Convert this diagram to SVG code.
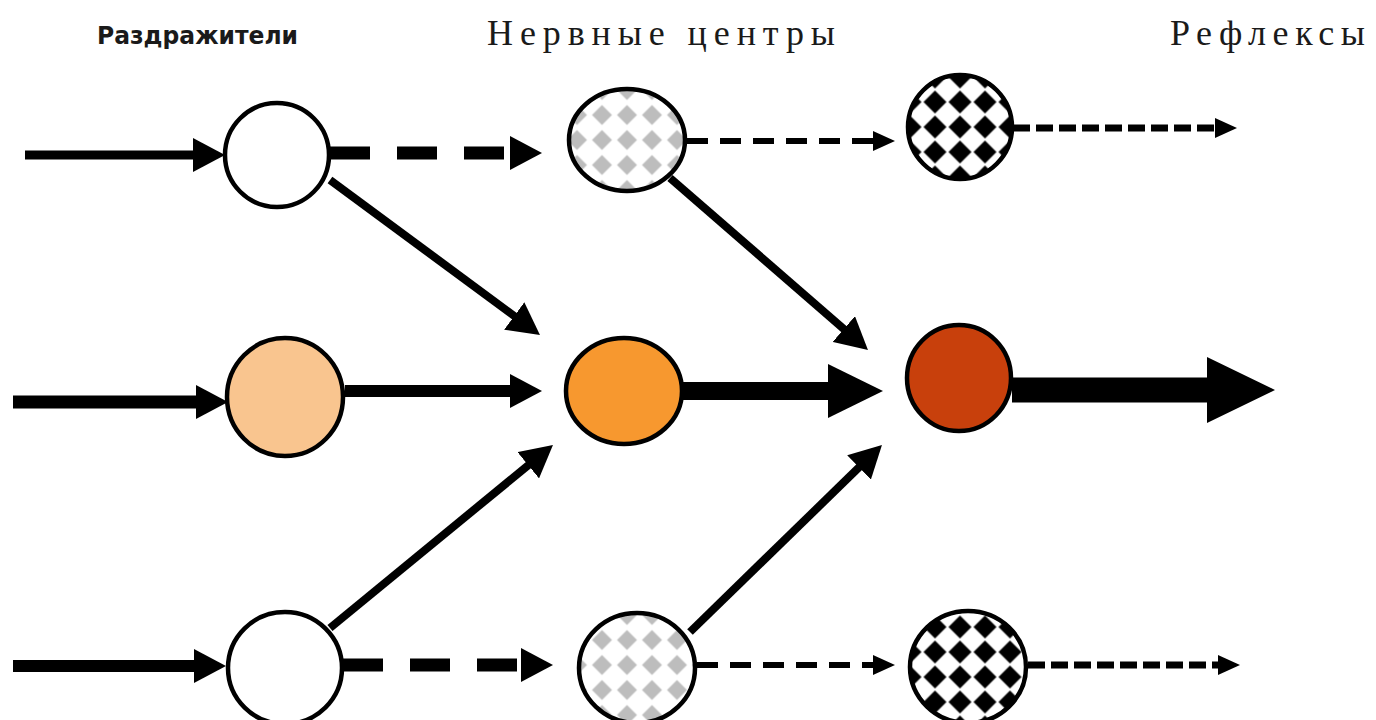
<svg xmlns="http://www.w3.org/2000/svg" width="1376" height="720" viewBox="0 0 1376 720">
<style>
.node{stroke:#000;stroke-width:4.5}
.ln{stroke:#000;fill:none;stroke-linecap:butt}
.hdr{font-family:"Liberation Serif","DejaVu Serif",serif;font-size:36px;fill:#1a1a1a}
.lbl{font-family:"DejaVu Sans Condensed","Liberation Sans",sans-serif;font-weight:bold;font-size:25px;fill:#1a1a1a}
</style>
<defs>
<pattern id="grey" patternUnits="userSpaceOnUse" width="25" height="25" x="614.5" y="127.5">
<rect width="25" height="25" fill="#fff"/>
<path d="M12.5,2.5 L22.5,12.5 L12.5,22.5 L2.5,12.5 Z" fill="#bdbdbd"/>
</pattern>
<pattern id="blk" patternUnits="userSpaceOnUse" width="25" height="25" x="947.5" y="114.5">
<rect width="25" height="25" fill="#fff"/>
<path d="M12.5,1 L24,12.5 L12.5,24 L1,12.5 Z" fill="#000"/>
</pattern>
<marker id="hA" markerUnits="userSpaceOnUse" markerWidth="32" markerHeight="34" refX="16" refY="17" orient="auto"><path d="M0,0 L32,17 L0,34 Z" fill="#000"/></marker>
<marker id="hS" markerUnits="userSpaceOnUse" markerWidth="22" markerHeight="20" refX="11" refY="10" orient="auto"><path d="M0,0 L22,10 L0,20 Z" fill="#000"/></marker>
<marker id="hL" markerUnits="userSpaceOnUse" markerWidth="55" markerHeight="54" refX="27" refY="27" orient="auto"><path d="M0,0 L55,27 L0,54 Z" fill="#000"/></marker>
<marker id="hXL" markerUnits="userSpaceOnUse" markerWidth="68" markerHeight="66" refX="34" refY="33" orient="auto"><path d="M0,0 L68,33 L0,66 Z" fill="#000"/></marker>
</defs>
<rect width="1376" height="720" fill="#fff"/>

<g id="labels">
<text class="lbl" x="97" y="44" textLength="201" lengthAdjust="spacingAndGlyphs">Раздражители</text>
<text class="hdr" x="487" y="45" textLength="348" lengthAdjust="spacing">Нервные центры</text>
<text class="hdr" x="1170" y="45" textLength="195" lengthAdjust="spacing">Рефлексы</text>
</g>

<g id="connectors">
<line class="ln" x1="25" y1="155" x2="209" y2="155" stroke-width="9" marker-end="url(#hA)"/>
<line class="ln" x1="13" y1="402" x2="212" y2="402" stroke-width="13" marker-end="url(#hA)"/>
<line class="ln" x1="13" y1="666" x2="210" y2="666" stroke-width="12" marker-end="url(#hA)"/>

<line class="ln" x1="330" y1="153" x2="526" y2="153" stroke-width="13" stroke-dasharray="40 27" marker-end="url(#hA)"/>
<line class="ln" x1="345" y1="391" x2="526" y2="391" stroke-width="12" marker-end="url(#hA)"/>
<line class="ln" x1="343" y1="665" x2="537" y2="665" stroke-width="13" stroke-dasharray="40 27" marker-end="url(#hA)"/>
<line class="ln" x1="330" y1="180" x2="527.1" y2="325.5" stroke-width="8" marker-end="url(#hA)"/>
<line class="ln" x1="330" y1="628" x2="540.6" y2="455.1" stroke-width="8" marker-end="url(#hA)"/>

<line class="ln" x1="687" y1="141" x2="884" y2="141" stroke-width="6" stroke-dasharray="21 12" marker-end="url(#hS)"/>
<line class="ln" x1="683" y1="391" x2="855" y2="391" stroke-width="18" marker-end="url(#hL)"/>
<line class="ln" x1="697" y1="665" x2="884" y2="665" stroke-width="6" stroke-dasharray="21 12" marker-end="url(#hS)"/>
<line class="ln" x1="670" y1="178" x2="855.9" y2="339.5" stroke-width="8" marker-end="url(#hA)"/>
<line class="ln" x1="690" y1="632" x2="870.5" y2="456.2" stroke-width="8" marker-end="url(#hA)"/>

<line class="ln" x1="1013" y1="128" x2="1226" y2="128" stroke-width="7" stroke-dasharray="17 6" marker-end="url(#hS)"/>
<line class="ln" x1="1012" y1="390" x2="1241" y2="390" stroke-width="25" marker-end="url(#hXL)"/>
<line class="ln" x1="1028" y1="665" x2="1229" y2="665" stroke-width="7" stroke-dasharray="17 6" marker-end="url(#hS)"/>
</g>

<g id="s1"><ellipse class="node" cx="277" cy="155" rx="52" ry="52" fill="#fff"/></g>
<g id="s2"><ellipse class="node" cx="285" cy="397" rx="58" ry="59" fill="#f9c58f"/></g>
<g id="s3"><ellipse class="node" cx="285" cy="668" rx="57" ry="56" fill="#fff"/></g>

<g id="c1"><ellipse class="node" cx="627" cy="140" rx="58" ry="51" fill="url(#grey)"/></g>
<g id="c2"><ellipse class="node" cx="624" cy="391" rx="58" ry="53" fill="#f7982f"/></g>
<g id="c3"><ellipse class="node" cx="637" cy="668" rx="58" ry="55" fill="url(#grey)"/></g>

<g id="r1"><ellipse class="node" cx="960" cy="127" rx="52" ry="52" fill="url(#blk)"/></g>
<g id="r2"><ellipse class="node" cx="959" cy="378" rx="52" ry="53" fill="#c8400c"/></g>
<g id="r3"><ellipse class="node" cx="968" cy="667" rx="58" ry="56" fill="url(#blk)"/></g>
</svg>
